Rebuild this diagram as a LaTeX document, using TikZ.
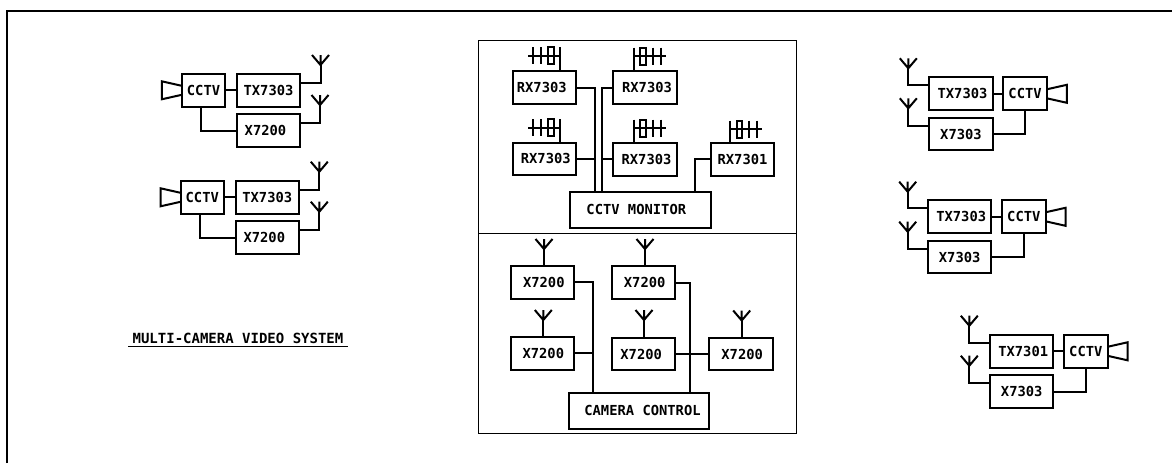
\documentclass[tikz,border=0pt]{standalone}
\usepackage{fontspec}
\setmonofont{DejaVu Sans Mono}
\usepackage{tikz}
\usetikzlibrary{positioning}

\begin{document}
\begin{tikzpicture}[
	x=1pt,y=-1pt,
	box/.style={
		draw,
		line width=2pt,
		outer sep=0pt,
		inner sep=0pt,
		minimum width=63.5pt,
		minimum height=32.7pt,
		align=center,
		font=\fontsize{13.8pt}{14pt}\ttfamily\bfseries
	},
	cam/.style={box,minimum width=43.5pt},
	ctrl/.style={box,minimum width=140.5pt,minimum height=36pt},
	panel/.style={draw,line width=0.9pt,outer sep=0pt,minimum width=318pt},
	wire/.style={line width=2pt},
	whip/.pic={
		\draw[wire] (-8.5,-10) -- (0,0) -- (8.5,-10) (0,-10) -- (0,0);
	},
	yagi/.pic={
		\draw[wire] (0,0) -- (32,0) (19,-8.5) -- (19,8.5) (27,-8.5) -- (27,8.5);
		\draw[wire] (6.5,-8.5) rectangle (12,8.5);
		\draw[wire] (0,-8.5) -- (0,0);
	},
	horn/.pic={
		\draw[wire] (0,-4.5) -- (-20,-9) -- (-20,9) -- (0,4.5);
	}
	]
	\useasboundingbox (0,0) rectangle (1172,463);
	% outer frame
	\coordinate (fa) at (7,463);
	\coordinate (fb) at (1172,11);
	\draw[line width=1.2pt] (fa) |- (fb);

	\node[panel,minimum height=193pt] (upper) at (637,136.5) {};
	\node[panel,minimum height=200pt] (lower) at (637,333) {};

	% left cameras
	\node[box] (tx1) at (268.5,90.3) {TX7303};
	\node[cam,left=11.5pt of tx1] (cctv1) {CCTV};
	\node[box,below=7.5pt of tx1] (x1) {\hspace*{-6pt}X7200};
	\coordinate (a1) at (320.5,65);
	\coordinate (a2) at (320,105);
	\pic at (cctv1.west) {horn};
	\pic at (a1) {whip};
	\pic at (a2) {whip};
	\draw[wire] (cctv1) -- (tx1);
	\draw[wire] ([xshift=-2.6pt]cctv1.south) |- (x1.west);
	\draw[wire] ([yshift=7.6pt]tx1.east) -| (a1);
	\draw[wire] ([yshift=7.6pt]x1.east) -| (a2);

	\node[box] (tx2) at (267.3,197.3) {TX7303};
	\node[cam,left=11.5pt of tx2] (cctv2) {CCTV};
	\node[box,below=7.5pt of tx2] (x2) {\hspace*{-6pt}X7200};
	\coordinate (a3) at (319.3,171.7);
	\coordinate (a4) at (319.3,211.7);
	\pic at (cctv2.west) {horn};
	\pic at (a3) {whip};
	\pic at (a4) {whip};
	\draw[wire] (cctv2) -- (tx2);
	\draw[wire] ([xshift=-2.6pt]cctv2.south) |- (x2.west);
	\draw[wire] ([yshift=7.6pt]tx2.east) -| (a3);
	\draw[wire] ([yshift=7.6pt]x2.east) -| (a4);

	\node[font=\fontsize{14pt}{14pt}\ttfamily\bfseries,inner xsep=4.5pt,inner ysep=3pt,text height=10pt,text depth=0pt,outer sep=0pt] (title) at (238,338) {MULTI-CAMERA VIDEO SYSTEM};
	\draw[line width=1pt] (title.south west) -- (title.south east);

	% receivers
	\node[box] (rx1) at (544.3,87.7) {\hspace*{-5pt}RX7303};
	\node[box] (rx2) at (645,87.7) {\hspace*{4pt}RX7303};
	\node[box,below=38.5pt of rx1] (rx3) {\hspace*{3pt}RX7303};
	\node[box,below=39pt of rx2] (rx4) {\hspace*{3pt}RX7303};
	\node[box,right=34pt of rx4] (rx5) {RX7301};
	\node[ctrl] (monitor) at (640.3,209.7) {\hspace*{-8pt}CCTV MONITOR};
	\coordinate (y1) at (560,55.5);
	\coordinate (y2) at (633.5,56);
	\coordinate (y3) at (560,127.5);
	\coordinate (y4) at (633.5,128);
	\coordinate (y5) at (730,129);
	\pic[xscale=-1] at (y1) {yagi};
	\pic at (y2) {yagi};
	\pic[xscale=-1] at (y3) {yagi};
	\pic at (y4) {yagi};
	\pic at (y5) {yagi};
	\foreach \n in {1,...,5}{
		\draw[wire] (rx\n.north -| y\n) -- (y\n);
	}
	\coordinate (bus1) at (595,191.7);
	\coordinate (bus2) at (602.3,191.7);
	\coordinate (bus3) at (695,191.7);
	\draw[wire] (rx1.east) -| (bus1);
	\draw[wire] (rx3.east) -- (rx3.east -| bus1);
	\draw[wire] (rx2.west) -| (bus2);
	\draw[wire] (rx4.west) -- (rx4.west -| bus2);
	\draw[wire] (rx5.west) -| (bus3);

	% transmitters
	\node[box] (t1) at (542.3,282.2) {\hspace*{3pt}X7200};
	\node[box] (t2) at (643.7,282.8) {\hspace*{2pt}X7200};
	\node[box,below=38.5pt of t1] (t3) {\hspace*{2pt}X7200};
	\node[box,below=38.5pt of t2] (t4) {\hspace*{-5pt}X7200};
	\node[box,right=34pt of t4] (t5) {\hspace*{2pt}X7200};
	\node[ctrl] (control) at (639,410.5) {\hspace*{7pt}CAMERA CONTROL};
	\coordinate (w1) at (544,249);
	\coordinate (w2) at (645,249);
	\coordinate (w3) at (543.3,320);
	\coordinate (w4) at (644,320);
	\coordinate (w5) at (741.7,320.5);
	\foreach \n in {1,...,5}{
		\pic at (w\n) {whip};
		\draw[wire] (t\n.north -| w\n) -- (w\n);
	}
	\coordinate (bus4) at (592.7,392.7);
	\coordinate (bus5) at (690,392.7);
	\draw[wire] (t1.east) -| (bus4);
	\draw[wire] (t3.east) -- (t3.east -| bus4);
	\draw[wire] (t2.east) -| (bus5);
	\draw[wire] (t4) -- (t5);

	% right cameras
	\node[box] (tx3) at (961,93.8) {\hspace*{3pt}TX7303};
	\node[cam,right=10.6pt of tx3] (cctv3) {CCTV};
	\node[box,below=7.5pt of tx3] (x3) {X7303};
	\coordinate (a5) at (908.3,68.3);
	\coordinate (a6) at (908.3,108.3);
	\pic[xscale=-1] at (cctv3.east) {horn};
	\pic at (a5) {whip};
	\pic at (a6) {whip};
	\draw[wire] (tx3) -- (cctv3);
	\draw[wire] (cctv3.south) |- (x3.east);
	\draw[wire] ([yshift=8.5pt]tx3.west) -| (a5);
	\draw[wire] ([yshift=8.5pt]x3.west) -| (a6);

	\node[box] (tx4) at (959.7,216.8) {\hspace*{3pt}TX7303};
	\node[cam,right=10.6pt of tx4] (cctv4) {CCTV};
	\node[box,below=7.5pt of tx4] (x4) {X7303};
	\coordinate (a7) at (907.7,191.7);
	\coordinate (a8) at (907.7,231.7);
	\pic[xscale=-1] at (cctv4.east) {horn};
	\pic at (a7) {whip};
	\pic at (a8) {whip};
	\draw[wire] (tx4) -- (cctv4);
	\draw[wire] (cctv4.south) |- (x4.east);
	\draw[wire] ([yshift=8.5pt]tx4.west) -| (a7);
	\draw[wire] ([yshift=8.5pt]x4.west) -| (a8);

	\node[box] (tx5) at (1021.7,351.3) {\hspace*{3pt}TX7301};
	\node[cam,right=10.6pt of tx5] (cctv5) {CCTV};
	\node[box,below=7.5pt of tx5] (x5) {X7303};
	\coordinate (a9) at (969.3,325.7);
	\coordinate (a10) at (969.3,365.7);
	\pic[xscale=-1] at (cctv5.east) {horn};
	\pic at (a9) {whip};
	\pic at (a10) {whip};
	\draw[wire] (tx5) -- (cctv5);
	\draw[wire] (cctv5.south) |- (x5.east);
	\draw[wire] ([yshift=8.5pt]tx5.west) -| (a9);
	\draw[wire] ([yshift=8.5pt]x5.west) -| (a10);
\end{tikzpicture}
\end{document}
